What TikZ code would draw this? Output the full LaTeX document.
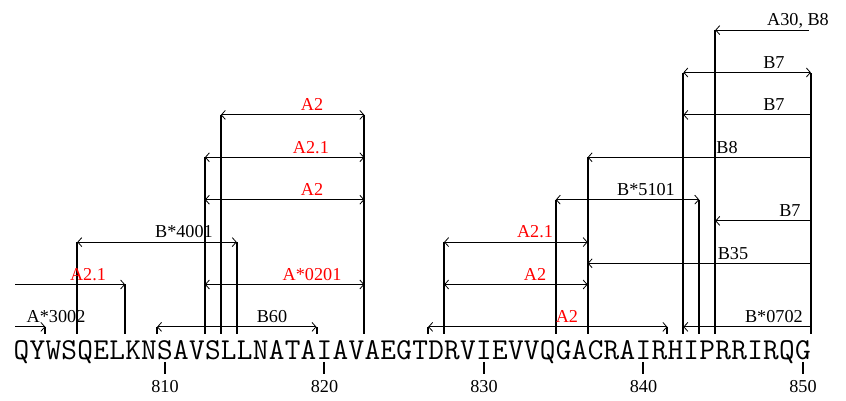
\documentclass[tikz,border=0pt]{standalone}
\usepackage{fontspec}
\setmainfont{Liberation Serif}
\usetikzlibrary{arrows.meta}

\begin{document}
\begin{tikzpicture}[x=7.975pt,y=10.6pt,>={Straight Barb[length=2pt,width=4.5pt]},
  every node/.style={font=\fontsize{9.1}{11}\selectfont,inner sep=0pt},
  span/.style={line width=0.4pt},
  boundary/.style={line width=1pt},
  tag/.style={anchor=base},
  redtag/.style={tag,text=red},
  residue/.style={anchor=base,font=\fontsize{15.2}{18}\selectfont\ttfamily}]
\useasboundingbox (-0.345,-3.49) rectangle (52.70,15.42);
% sequence, residue 801 at x=1
\foreach \c [count=\i from 1] in {Q,Y,W,S,Q,E,L,K,N,S,A,V,S,L,L,N,A,T,A,I,A,V,A,E,G,T,D,R,V,I,E,V,V,Q,G,A,C,R,A,I,R,H,I,P,R,R,I,R,Q,G}
  \node[residue] (r\i) at (\i,-1.52) {\c};
% position ticks
\foreach \n in {10,20,30,40,50} {
  \draw[boundary] (\n,-1.65) -- (\n,-2.22);
  \node[tag] (n8\n) at (\n,-3.11) {8\n};
}
% epitope boundaries
\foreach \p/\top in {2.5/0,4.5/4,7.5/2,9.5/0,12.5/8,13.5/10,14.5/4,19.5/0,22.5/10,
    26.5/0,27.5/4,34.5/6,36.5/8,41.5/0,42.5/12,43.5/6,44.5/14,50.5/12}
  \draw[boundary] (\p,-0.33) -- (\p,\top);
% level 0
\draw[span,->] (0.6,0) -- (2.5,0);
\node[tag] (a3002) at (3.17,0.2) {A*3002};
\draw[span,<->] (9.5,0) -- (19.5,0);
\node[tag] (b60) at (16.71,0.2) {B60};
\draw[span,<->] (26.5,0) -- (41.5,0);
\node[redtag] (a2x) at (35.2,0.2) {A2};
\draw[span,<-] (42.5,0) -- (50.5,0);
\node[tag] (b0702) at (48.18,0.2) {B*0702};
% level 2
\draw[span,->] (0.6,2) -- (7.5,2);
\node[redtag] (a21x) at (5.17,2.2) {A2.1};
\draw[span,<->] (12.5,2) -- (22.5,2);
\node[redtag] (a0201) at (19.22,2.2) {A*0201};
\draw[span,<->] (27.5,2) -- (36.5,2);
\node[redtag] (a2y) at (33.2,2.2) {A2};
% level 3
\draw[span,<-] (36.5,3) -- (50.5,3);
\node[tag] (b35) at (45.61,3.2) {B35};
% level 4
\draw[span,<->] (4.5,4) -- (14.5,4);
\node[tag] (b4001) at (11.19,4.2) {B*4001};
\draw[span,<->] (27.5,4) -- (36.5,4);
\node[redtag] (a21y) at (33.2,4.2) {A2.1};
% level 5
\draw[span,<-] (44.5,5) -- (50.5,5);
\node[tag] (b7x) at (49.18,5.2) {B7};
% level 6
\draw[span,<->] (12.5,6) -- (22.5,6);
\node[redtag] (a2z) at (19.22,6.2) {A2};
\draw[span,<->] (34.5,6) -- (43.5,6);
\node[tag] (b5101) at (40.16,6.2) {B*5101};
% level 8
\draw[span,<->] (12.5,8) -- (22.5,8);
\node[redtag] (a21z) at (19.15,8.2) {A2.1};
\draw[span,<-] (36.5,8) -- (50.5,8);
\node[tag] (b8) at (45.24,8.2) {B8};
% level 10
\draw[span,<->] (13.5,10) -- (22.5,10);
\node[redtag] (a2w) at (19.22,10.2) {A2};
\draw[span,<-] (42.5,10) -- (50.5,10);
\node[tag] (b7y) at (48.18,10.2) {B7};
% level 12
\draw[span,<->] (42.5,12) -- (50.5,12);
\node[tag] (b7z) at (48.18,12.2) {B7};
% level 14
\draw[span,<-] (44.5,14) -- (50.4,14);
\node[tag] (a30b8) at (49.69,14.2) {A30, B8};
\end{tikzpicture}
\end{document}
